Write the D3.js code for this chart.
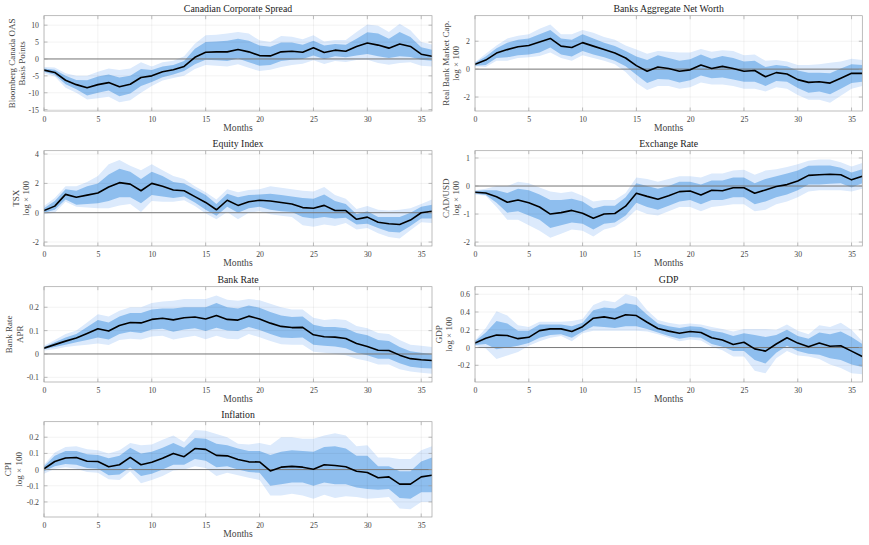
<!DOCTYPE html>
<html><head><meta charset="utf-8">
<script src="https://cdn.jsdelivr.net/npm/d3@7"></script>
<style>
html,body{margin:0;padding:0;background:#fff;}
svg{display:block;}
svg text{font-family:"Liberation Serif","Times New Roman",Times,"DejaVu Serif",serif !important;}
</style></head>
<body>
<svg id="chart" width="869" height="545" font-family="Liberation Serif"></svg>
<script>
// ---------------- DATA ----------------
const spreadMed  = [-3.3,-4.0,-6.3,-7.6,-8.5,-7.6,-7.0,-8.2,-7.5,-5.5,-5.0,-3.8,-3.2,-2.2,0.5,2.0,2.1,2.1,2.8,2.1,1.0,0.9,2.1,2.3,2.0,3.3,1.9,2.6,2.3,3.7,4.7,4.1,3.2,4.4,3.7,1.4,0.8];
const spreadHi68 = [-2.8,-3.2,-5.0,-6.2,-6.3,-5.2,-4.6,-5.5,-5.0,-3.0,-3.3,-2.2,-1.8,-0.6,3.0,5.0,5.2,5.4,6.0,5.4,4.0,3.6,4.9,4.9,4.2,5.4,4.0,4.4,4.2,6.0,7.9,7.5,6.0,8.0,6.5,3.5,2.7];
const spreadLo68 = [-3.8,-4.7,-7.5,-9.0,-10.8,-10.0,-9.3,-11.0,-10.2,-8.0,-6.8,-5.4,-4.6,-3.6,-1.6,-0.2,-0.4,-0.6,0.1,-1.0,-2.0,-1.8,-0.6,-0.2,0.0,1.0,0.0,0.8,0.5,1.0,1.5,0.8,0.3,0.8,0.6,-0.2,-0.5];
const spreadHi90 = [-2.4,-2.5,-4.2,-5.0,-5.0,-3.8,-2.8,-3.3,-2.8,-1.0,-2.2,-1.0,-0.5,0.8,4.5,7.0,7.2,7.5,8.0,7.5,5.5,5.0,6.8,6.6,5.8,7.0,5.2,5.6,5.6,8.0,10.2,9.8,8.0,10.4,8.5,5.0,4.3];
const spreadLo90 = [-4.3,-5.2,-8.5,-10.0,-12.0,-11.6,-11.2,-12.8,-12.2,-10.0,-8.0,-6.4,-5.6,-5.0,-3.0,-1.8,-2.0,-2.2,-1.6,-2.6,-3.6,-3.2,-2.4,-1.8,-1.4,-0.4,-1.5,-0.6,-0.9,-0.3,-0.2,-1.2,-1.7,-1.2,-1.0,-2.0,-2.2];

const bankMed  = [0.35,0.65,1.15,1.4,1.6,1.7,1.95,2.2,1.65,1.55,1.9,1.65,1.4,1.15,0.8,0.25,-0.15,0.15,0.05,-0.15,-0.05,0.3,0.05,0.2,0.05,-0.15,-0.1,-0.55,-0.25,-0.35,-0.75,-0.95,-0.9,-1.0,-0.65,-0.3,-0.3];
const bankHi68 = [0.45,0.9,1.5,1.9,2.1,2.2,2.5,2.8,2.2,2.1,2.5,2.2,1.9,1.65,1.3,0.9,0.65,1.0,0.8,0.6,0.7,1.05,0.75,0.95,0.8,0.55,0.6,0.15,0.3,0.2,-0.1,-0.25,-0.25,-0.3,0.05,0.35,0.3];
const bankLo68 = [0.25,0.3,0.8,0.85,1.0,1.05,1.2,1.55,1.05,0.9,1.3,1.05,0.85,0.6,0.2,-0.4,-1.0,-0.7,-0.75,-0.95,-0.8,-0.45,-0.65,-0.6,-0.75,-0.9,-0.9,-1.2,-0.85,-0.9,-1.35,-1.7,-1.6,-1.8,-1.4,-1.0,-0.9];
const bankHi90 = [0.5,1.1,1.7,2.2,2.4,2.5,2.9,3.2,2.5,2.5,2.8,2.6,2.3,2.1,1.7,1.4,1.1,1.3,1.25,1.2,1.2,1.45,1.25,1.35,1.3,1.0,1.05,0.6,0.65,0.55,0.3,0.3,0.35,0.45,0.55,0.75,0.65];
const bankLo90 = [0.2,0.15,0.6,0.6,0.8,0.85,0.95,1.2,0.8,0.6,1.0,0.8,0.6,0.35,-0.2,-1.0,-1.5,-1.2,-1.2,-1.4,-1.3,-0.95,-1.1,-1.1,-1.2,-1.4,-1.4,-1.6,-1.3,-1.4,-1.85,-2.2,-2.2,-2.4,-1.9,-1.4,-1.2];

const equityMed  = [0.15,0.45,1.25,1.05,1.2,1.35,1.75,2.05,1.95,1.5,2.0,1.8,1.55,1.5,1.1,0.7,0.2,0.85,0.5,0.75,0.85,0.8,0.7,0.6,0.35,0.3,0.5,0.15,0.15,-0.45,-0.3,-0.65,-0.75,-0.8,-0.5,0.0,0.1];
const equityHi68 = [0.3,0.8,1.6,1.5,1.8,2.0,2.6,3.0,2.8,2.3,2.8,2.5,2.1,2.0,1.6,1.2,0.6,1.3,1.05,1.2,1.25,1.3,1.2,1.1,1.0,0.95,1.25,0.8,0.6,-0.1,0.1,-0.3,-0.3,-0.3,0.0,0.4,0.55];
const equityLo68 = [0.0,0.2,0.9,0.55,0.6,0.65,0.8,1.05,1.05,0.65,1.2,1.1,1.0,1.1,0.7,0.2,-0.2,0.4,0.0,0.3,0.4,0.2,0.1,0.05,-0.3,-0.4,-0.3,-0.4,-0.35,-0.8,-0.75,-1.05,-1.3,-1.35,-0.9,-0.4,-0.4];
const equityHi90 = [0.45,1.0,1.8,1.8,2.1,2.5,3.3,3.6,3.2,2.9,3.3,2.9,2.5,2.3,1.8,1.4,0.9,1.6,1.4,1.55,1.6,1.8,1.7,1.6,1.5,1.45,1.75,1.2,0.95,0.25,0.45,0.2,0.15,0.2,0.3,0.6,0.9];
const equityLo90 = [-0.1,0.0,0.75,0.4,0.35,0.3,0.3,0.5,0.6,0.05,0.8,0.75,0.75,0.85,0.45,-0.05,-0.45,0.05,-0.45,0.0,0.1,-0.1,-0.2,-0.3,-0.85,-0.95,-0.8,-0.9,-0.7,-1.15,-1.05,-1.4,-1.65,-1.75,-1.2,-0.65,-0.7];

const fxMed  = [-0.22,-0.25,-0.38,-0.58,-0.5,-0.6,-0.75,-1.0,-0.95,-0.87,-0.97,-1.15,-1.0,-0.98,-0.72,-0.26,-0.37,-0.47,-0.35,-0.2,-0.18,-0.32,-0.15,-0.17,-0.06,-0.06,-0.26,-0.14,-0.02,0.05,0.18,0.38,0.4,0.42,0.4,0.22,0.35];
const fxHi68 = [-0.18,-0.15,-0.15,-0.25,-0.1,-0.15,-0.3,-0.5,-0.5,-0.45,-0.55,-0.8,-0.7,-0.7,-0.4,0.1,0.0,-0.1,0.0,0.15,0.15,0.05,0.2,0.2,0.3,0.3,0.1,0.25,0.35,0.45,0.55,0.72,0.73,0.73,0.65,0.48,0.6];
const fxLo68 = [-0.27,-0.32,-0.6,-0.95,-0.9,-1.05,-1.2,-1.5,-1.4,-1.3,-1.35,-1.55,-1.35,-1.3,-1.05,-0.6,-0.75,-0.85,-0.7,-0.55,-0.5,-0.65,-0.5,-0.5,-0.4,-0.4,-0.65,-0.55,-0.4,-0.3,-0.15,0.05,0.05,0.08,0.1,-0.05,0.1];
const fxHi90 = [-0.15,-0.1,0.0,0.0,0.15,0.1,-0.05,-0.2,-0.25,-0.2,-0.35,-0.55,-0.5,-0.5,-0.25,0.3,0.25,0.15,0.25,0.35,0.35,0.3,0.45,0.45,0.55,0.58,0.4,0.55,0.6,0.68,0.78,0.9,0.95,0.95,0.85,0.7,0.82];
const fxLo90 = [-0.3,-0.35,-0.75,-1.2,-1.2,-1.4,-1.6,-1.85,-1.7,-1.55,-1.6,-1.8,-1.55,-1.45,-1.2,-0.85,-1.0,-1.05,-0.9,-0.75,-0.75,-0.9,-0.75,-0.7,-0.65,-0.65,-0.9,-0.85,-0.65,-0.55,-0.4,-0.2,-0.15,-0.15,-0.15,-0.2,-0.1];

const rateMed  = [0.025,0.04,0.055,0.068,0.088,0.108,0.098,0.122,0.135,0.133,0.148,0.153,0.146,0.155,0.158,0.15,0.165,0.148,0.145,0.162,0.15,0.132,0.118,0.113,0.114,0.082,0.074,0.072,0.066,0.045,0.032,0.016,0.015,-0.005,-0.02,-0.025,-0.028];
const rateHi68 = [0.03,0.05,0.07,0.085,0.115,0.145,0.135,0.16,0.175,0.175,0.19,0.195,0.195,0.2,0.2,0.2,0.218,0.2,0.195,0.208,0.198,0.18,0.165,0.158,0.16,0.125,0.115,0.115,0.11,0.09,0.08,0.06,0.055,0.03,0.012,0.005,0.0];
const rateLo68 = [0.02,0.03,0.04,0.05,0.06,0.07,0.062,0.085,0.095,0.09,0.105,0.108,0.095,0.105,0.11,0.098,0.112,0.1,0.098,0.115,0.103,0.085,0.07,0.068,0.07,0.04,0.035,0.032,0.025,0.005,-0.005,-0.02,-0.02,-0.04,-0.055,-0.06,-0.062];
const rateHi90 = [0.035,0.06,0.085,0.1,0.135,0.17,0.16,0.185,0.2,0.2,0.218,0.225,0.228,0.235,0.235,0.235,0.25,0.232,0.228,0.235,0.23,0.215,0.2,0.19,0.19,0.155,0.145,0.15,0.145,0.12,0.11,0.09,0.085,0.06,0.04,0.035,0.03];
const rateLo90 = [0.015,0.02,0.03,0.035,0.04,0.045,0.038,0.06,0.065,0.062,0.075,0.078,0.062,0.07,0.078,0.063,0.078,0.065,0.063,0.085,0.072,0.055,0.042,0.04,0.04,0.01,0.005,0.0,-0.005,-0.02,-0.03,-0.045,-0.045,-0.065,-0.075,-0.08,-0.085];

const gdpMed  = [0.05,0.105,0.14,0.135,0.1,0.115,0.19,0.21,0.21,0.18,0.235,0.33,0.345,0.325,0.37,0.36,0.285,0.215,0.185,0.16,0.18,0.17,0.11,0.085,0.035,0.06,-0.015,-0.04,0.04,0.11,0.05,0.01,0.05,0.015,0.02,-0.04,-0.1];
const gdpHi68 = [0.07,0.17,0.3,0.27,0.19,0.19,0.26,0.26,0.26,0.24,0.28,0.42,0.45,0.44,0.5,0.48,0.37,0.27,0.24,0.22,0.24,0.23,0.19,0.17,0.13,0.16,0.14,0.12,0.14,0.2,0.13,0.1,0.17,0.15,0.18,0.12,0.04];
const gdpLo68 = [0.03,0.04,-0.02,0.0,0.02,0.05,0.11,0.14,0.15,0.11,0.18,0.24,0.23,0.22,0.24,0.24,0.21,0.17,0.13,0.1,0.12,0.11,0.04,0.01,-0.04,-0.04,-0.14,-0.18,-0.06,0.02,-0.04,-0.07,-0.08,-0.12,-0.14,-0.19,-0.22];
const gdpHi90 = [0.08,0.22,0.41,0.36,0.25,0.23,0.29,0.29,0.29,0.3,0.32,0.48,0.53,0.51,0.6,0.57,0.42,0.31,0.28,0.26,0.27,0.26,0.23,0.21,0.18,0.21,0.21,0.21,0.2,0.26,0.19,0.15,0.25,0.23,0.28,0.2,0.07];
const gdpLo90 = [0.02,-0.01,-0.13,-0.09,-0.05,0.02,0.07,0.11,0.13,0.07,0.16,0.19,0.19,0.19,0.19,0.19,0.18,0.15,0.11,0.07,0.09,0.08,0.01,-0.03,-0.1,-0.1,-0.26,-0.29,-0.12,-0.04,-0.09,-0.1,-0.13,-0.19,-0.23,-0.29,-0.3];

const cpiMed  = [0.005,0.05,0.072,0.075,0.052,0.05,0.018,0.03,0.075,0.03,0.045,0.07,0.1,0.08,0.13,0.125,0.088,0.085,0.062,0.048,0.047,-0.008,0.015,0.02,0.015,0.002,0.03,0.025,0.018,-0.01,-0.018,-0.05,-0.045,-0.09,-0.09,-0.045,-0.035];
const cpiHi68 = [0.02,0.085,0.115,0.115,0.095,0.09,0.07,0.085,0.135,0.1,0.11,0.135,0.165,0.135,0.195,0.19,0.16,0.15,0.13,0.115,0.115,0.09,0.11,0.12,0.115,0.11,0.14,0.145,0.13,0.085,0.085,0.02,0.02,-0.01,-0.01,0.05,0.075];
const cpiLo68 = [-0.01,0.02,0.035,0.03,0.01,0.005,-0.035,-0.03,0.015,-0.04,-0.025,0.0,0.03,0.03,0.065,0.055,0.015,0.02,0.0,-0.015,-0.02,-0.1,-0.09,-0.08,-0.08,-0.1,-0.08,-0.09,-0.09,-0.11,-0.12,-0.125,-0.12,-0.175,-0.18,-0.14,-0.14];
const cpiHi90 = [0.03,0.105,0.14,0.145,0.125,0.12,0.1,0.12,0.165,0.15,0.155,0.185,0.21,0.17,0.245,0.24,0.22,0.2,0.16,0.155,0.165,0.15,0.2,0.2,0.19,0.19,0.21,0.225,0.21,0.145,0.15,0.075,0.075,0.065,0.065,0.12,0.145];
const cpiLo90 = [-0.025,0.005,0.015,0.005,-0.015,-0.02,-0.06,-0.065,-0.01,-0.085,-0.065,-0.04,-0.005,0.0,0.02,0.01,-0.04,-0.02,-0.035,-0.05,-0.065,-0.16,-0.16,-0.15,-0.16,-0.18,-0.155,-0.175,-0.165,-0.17,-0.18,-0.175,-0.17,-0.24,-0.245,-0.2,-0.2];

const xTicks = [0,5,10,15,20,25,30,35];
const spreadTicks = [-15,-10,-5,0,5,10];
const bankTicks = [-2,0,2];
const equityTicks = [-2,0,2,4];
const fxTicks = [-2,-1,0,1];
const rateTicks = [-0.1,0,0.1,0.2];
const gdpTicks = [-0.2,0,0.2,0.4,0.6];
const cpiTicks = [-0.2,-0.1,0,0.1,0.2];

const titles = ["Canadian Corporate Spread","Banks Aggregate Net Worth","Equity Index","Exchange Rate","Bank Rate","GDP","Inflation"];
const yLabels = [["Bloomberg Canada OAS","Basis Points"],["Real Bank Market Cap.","log \u00d7 100"],["TSX","log \u00d7 100"],["CAD/USD","log \u00d7 100"],["Bank Rate","APR"],["GDP","log \u00d7 100"],["CPI","log \u00d7 100"]];
const xLabel = "Months";

// ---------------- LAYOUT ----------------
const FONT = "'Liberation Serif','Times New Roman',Times,serif";
const cols = [[44,432],[475,862.3]];
const rows = [[15.7,111],[150.7,246],[286.7,382],[421.7,517]];
const panels = [
  {med:spreadMed,hi68:spreadHi68,lo68:spreadLo68,hi90:spreadHi90,lo90:spreadLo90,ticks:spreadTicks,dom:[-15.4,12.8],c:0,r:0,lab:[-31,-21]},
  {med:bankMed,hi68:bankHi68,lo68:bankLo68,hi90:bankHi90,lo90:bankLo90,ticks:bankTicks,dom:[-3.0,3.83],c:1,r:0,lab:[-28,-18]},
  {med:equityMed,hi68:equityHi68,lo68:equityLo68,hi90:equityHi90,lo90:equityLo90,ticks:equityTicks,dom:[-2.27,4.23],c:0,r:1,lab:[-27,-17]},
  {med:fxMed,hi68:fxHi68,lo68:fxLo68,hi90:fxHi90,lo90:fxLo90,ticks:fxTicks,dom:[-2.14,1.26],c:1,r:1,lab:[-28,-18]},
  {med:rateMed,hi68:rateHi68,lo68:rateLo68,hi90:rateHi90,lo90:rateLo90,ticks:rateTicks,dom:[-0.12,0.288],c:0,r:2,lab:[-34,-23]},
  {med:gdpMed,hi68:gdpHi68,lo68:gdpLo68,hi90:gdpHi90,lo90:gdpLo90,ticks:gdpTicks,dom:[-0.388,0.685],c:1,r:2,lab:[-35,-25]},
  {med:cpiMed,hi68:cpiHi68,lo68:cpiLo68,hi90:cpiHi90,lo90:cpiLo90,ticks:cpiTicks,dom:[-0.293,0.296],c:0,r:3,lab:[-35,-24]}
];

const svg = d3.select("#chart");
const fmt = v => (Math.abs(v) < 1e-9 ? "0" : String(+v.toFixed(2)));

panels.forEach((p, k) => {
  const [x0, x1] = cols[p.c];
  const [y0, y1] = rows[p.r];
  const x = d3.scaleLinear().domain([0, 36]).range([x0, x1]);
  const y = d3.scaleLinear().domain(p.dom).range([y1, y0]);
  const g = svg.append("g").attr("font-family", FONT);
  const clipId = "clip" + k;
  g.append("clipPath").attr("id", clipId).append("rect")
    .attr("x", x0).attr("y", y0).attr("width", x1 - x0).attr("height", y1 - y0);
  const pg = g.append("g").attr("clip-path", `url(#${clipId})`);

  const area = (lo, hi) => d3.area().x((d, i) => x(i)).y0((d, i) => y(lo[i])).y1((d, i) => y(hi[i]));
  pg.append("path").datum(p.med).attr("d", area(p.lo90, p.hi90)).attr("fill", "#DCEAFC");
  pg.append("path").datum(p.med).attr("d", area(p.lo68, p.hi68)).attr("fill", "#8EBEEE");

  // grid
  pg.selectAll(".gx").data(xTicks).join("line")
    .attr("x1", d => x(d)).attr("x2", d => x(d)).attr("y1", y0).attr("y2", y1)
    .attr("stroke", "#000").attr("stroke-opacity", 0.09).attr("stroke-width", 0.6);
  pg.selectAll(".gy").data(p.ticks).join("line")
    .attr("x1", x0).attr("x2", x1).attr("y1", d => y(d)).attr("y2", d => y(d))
    .attr("stroke", "#000").attr("stroke-opacity", 0.09).attr("stroke-width", 0.6);

  // zero line
  pg.append("line").attr("x1", x0).attr("x2", x1).attr("y1", y(0)).attr("y2", y(0))
    .attr("stroke", "#7a7a7a").attr("stroke-width", 1);

  // median
  pg.append("path").datum(p.med)
    .attr("d", d3.line().x((d, i) => x(i)).y(d => y(d)))
    .attr("fill", "none").attr("stroke", "#000").attr("stroke-width", 1.6).attr("stroke-linejoin", "round");

  // box
  g.append("rect").attr("x", x0).attr("y", y0).attr("width", x1 - x0).attr("height", y1 - y0)
    .attr("fill", "none").attr("stroke", "#a0a0a0").attr("stroke-width", 0.7);

  // axes (ticks inward, mirrored)
  const tl = 3.5;
  const axB = d3.axisBottom(x).tickValues(xTicks).tickSize(0).tickPadding(5).tickFormat(d3.format("d"));
  const gb = g.append("g").attr("transform", `translate(0,${y1})`).call(axB);
  gb.attr("font-family", FONT);
  gb.select(".domain").remove();
  gb.selectAll("text").attr("font-size", 7.8).attr("fill", "#444");
  const axL = d3.axisLeft(y).tickValues(p.ticks).tickSize(0).tickPadding(5).tickFormat(fmt);
  const gl = g.append("g").attr("transform", `translate(${x0},0)`).call(axL);
  gl.attr("font-family", FONT);
  gl.select(".domain").remove();
  gl.selectAll("text").attr("font-size", 7.8).attr("fill", "#444");

  const tk = g.append("g").attr("stroke", "#a0a0a0").attr("stroke-width", 0.7);
  xTicks.forEach(t => {
    tk.append("line").attr("x1", x(t)).attr("x2", x(t)).attr("y1", y1).attr("y2", y1 - tl);
    tk.append("line").attr("x1", x(t)).attr("x2", x(t)).attr("y1", y0).attr("y2", y0 + tl);
  });
  p.ticks.forEach(t => {
    tk.append("line").attr("x1", x0).attr("x2", x0 + tl).attr("y1", y(t)).attr("y2", y(t));
    tk.append("line").attr("x1", x1).attr("x2", x1 - tl).attr("y1", y(t)).attr("y2", y(t));
  });

  // title
  g.append("text").attr("x", (x0 + x1) / 2).attr("y", y0 - 6.4).attr("text-anchor", "middle")
    .attr("dominant-baseline", "middle").attr("font-size", 9.8).attr("fill", "#222").text(titles[k]);
  // x label
  g.append("text").attr("x", (x0 + x1) / 2).attr("y", y1 + 18).attr("text-anchor", "middle")
    .attr("dominant-baseline", "middle").attr("font-size", 9.6).attr("fill", "#444").text(xLabel);
  // y label
  const ym = (y0 + y1) / 2;
  yLabels[k].forEach((s, j) => {
    g.append("text").attr("transform", `translate(${x0 + p.lab[j]},${ym}) rotate(-90)`)
      .attr("text-anchor", "middle").attr("dominant-baseline", "middle")
      .attr("font-size", 9).attr("fill", "#444").text(s);
  });
});
</script>
</body></html>
